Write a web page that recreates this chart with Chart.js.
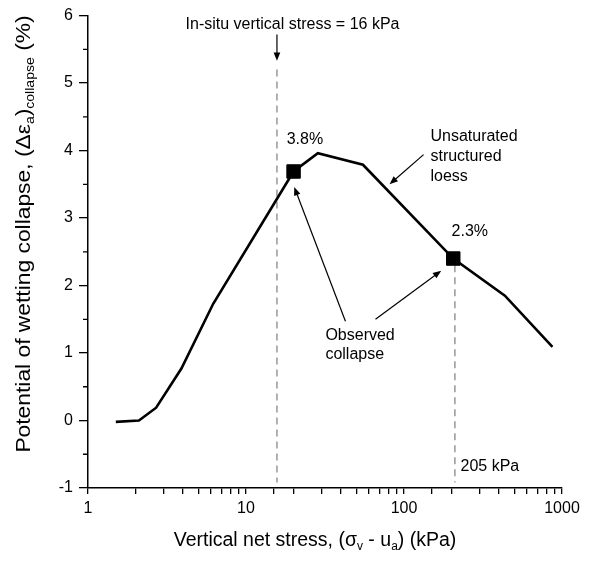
<!DOCTYPE html>
<html>
<head>
<meta charset="utf-8">
<script src="https://cdn.jsdelivr.net/npm/chart.js@4"></script>
<style>
    html, body { margin: 0; padding: 0; background: #fff; }
    #wrap { width: 614px; height: 564px; }
</style>
</head>
<body>
<div id="wrap"><canvas id="collapseChart" width="614" height="564"></canvas></div>
<script>
// Data
const stressKPa = [1.5, 2.1, 2.7, 3.9, 6.2, 20, 28.5, 55, 205, 435, 870];
const collapsePct = [-0.02, 0.0, 0.19, 0.77, 1.73, 3.69, 3.96, 3.79, 2.40, 1.85, 1.09];

const observedStress = [20, 205];
const observedCollapse = [3.69, 2.40];

const xTickValues = [1, 10, 100, 1000];
const yTickValues = [-1, 0, 1, 2, 3, 4, 5, 6];

// Vertical reference stresses (dashed lines)
const insituStress = 15.7;
const refStress205 = 210;

const FONT = 'Arial, "Liberation Sans", sans-serif';

/**
 * Draw a run of text with subscript parts, centred on (0,0)
 */
function drawRich(ctx, parts, size, subSize) {
    let total = 0;
    parts.forEach(p => {
        ctx.font = `${p.sub ? subSize : size}px ${FONT}`;
        p.w = ctx.measureText(p.t).width;
        total += p.w;
    });
    let x = -total / 2;
    ctx.textBaseline = 'middle';
    ctx.textAlign = 'left';
    parts.forEach(p => {
        ctx.font = `${p.sub ? subSize : size}px ${FONT}`;
        ctx.fillText(p.t, x, p.sub ? size * 0.3 : 0);
        x += p.w;
    });
}

function arrow(ctx, x1, y1, x2, y2, head) {
    const ang = Math.atan2(y2 - y1, x2 - x1);
    ctx.beginPath();
    ctx.moveTo(x1, y1);
    ctx.lineTo(x2 - Math.cos(ang) * head * 0.6, y2 - Math.sin(ang) * head * 0.6);
    ctx.stroke();
    ctx.beginPath();
    ctx.moveTo(x2, y2);
    ctx.lineTo(x2 - head * Math.cos(ang - 0.38), y2 - head * Math.sin(ang - 0.38));
    ctx.lineTo(x2 - head * Math.cos(ang + 0.38), y2 - head * Math.sin(ang + 0.38));
    ctx.closePath();
    ctx.fill();
}

const annotationPlugin = {
    id: 'annotations',
    beforeDatasetsDraw(chart) {
        const { ctx, scales: { x, y } } = chart;
        ctx.save();
        ctx.strokeStyle = '#888';
        ctx.lineWidth = 1.3;
        ctx.setLineDash([7, 5]);
        ctx.beginPath();
        ctx.moveTo(x.getPixelForValue(insituStress), y.getPixelForValue(5.2));
        ctx.lineTo(x.getPixelForValue(insituStress), y.getPixelForValue(-0.92));
        ctx.moveTo(x.getPixelForValue(refStress205), y.getPixelForValue(2.3));
        ctx.lineTo(x.getPixelForValue(refStress205), y.getPixelForValue(-0.92));
        ctx.stroke();
        ctx.restore();
    },
    afterDraw(chart) {
        const { ctx, scales: { x, y }, chartArea } = chart;
        const px = v => x.getPixelForValue(v);
        const py = v => y.getPixelForValue(v);
        ctx.save();
        ctx.fillStyle = '#000';
        ctx.strokeStyle = '#000';

        // minor y ticks
        ctx.lineWidth = 1.3;
        ctx.beginPath();
        for (let v = -0.5; v < 6; v += 1) {
            ctx.moveTo(chartArea.left - 5, py(v));
            ctx.lineTo(chartArea.left, py(v));
        }
        ctx.stroke();

        // text labels
        ctx.font = `16px ${FONT}`;
        ctx.textBaseline = 'middle';
        ctx.textAlign = 'center';
        ctx.fillText('In-situ vertical stress = 16 kPa', px(19.7), py(5.87));
        ctx.textAlign = 'left';
        ctx.fillText('3.8%', px(18.1), py(4.17));
        ctx.fillText('2.3%', px(200), py(2.80));
        ctx.fillText('Unsaturated', px(147), py(4.20));
        ctx.fillText('structured', px(147), py(3.91));
        ctx.fillText('loess', px(147), py(3.62));
        ctx.fillText('Observed', px(31.8), py(1.26));
        ctx.fillText('collapse', px(31.8), py(0.97));
        ctx.fillText('205 kPa', px(228), py(-0.68));

        // arrows
        ctx.lineWidth = 1.2;
        arrow(ctx, px(insituStress), py(5.72), px(insituStress), py(5.33), 9);
        arrow(ctx, px(133), py(3.94), px(81), py(3.50), 9);
        arrow(ctx, px(42.6), py(1.47), px(20.2), py(3.46), 9);
        arrow(ctx, px(66), py(1.50), px(172), py(2.22), 9);

        // axis titles
        ctx.save();
        ctx.translate((chartArea.left + chartArea.right) / 2 - 10, 541);
        drawRich(ctx, [
            { t: 'Vertical net stress, (σ' },
            { t: 'v', sub: true },
            { t: ' - u' },
            { t: 'a', sub: true },
            { t: ') (kPa)' }
        ], 19.5, 12);
        ctx.restore();

        ctx.save();
        ctx.translate(25, 234);
        ctx.rotate(-Math.PI / 2);
        ctx.scale(1.17, 1);
        drawRich(ctx, [
            { t: 'Potential of wetting collapse, (Δε' },
            { t: 'a', sub: true },
            { t: ')' },
            { t: 'collapse', sub: true },
            { t: ' (%)' }
        ], 19.5, 12);
        ctx.restore();

        ctx.restore();
    }
};

const ctx = document.getElementById('collapseChart').getContext('2d');

new Chart(ctx, {
    type: 'scatter',
    data: {
        datasets: [{
            label: 'Unsaturated structured loess',
            data: stressKPa.map((s, i) => ({ x: s, y: collapsePct[i] })),
            showLine: true,
            borderColor: '#000',
            borderWidth: 2.6,
            pointRadius: 0,
            tension: 0,
            order: 2
        }, {
            label: 'Observed collapse',
            data: observedStress.map((s, i) => ({ x: s, y: observedCollapse[i] })),
            showLine: false,
            pointStyle: 'rect',
            pointRadius: 9.5,
            backgroundColor: '#000',
            borderColor: '#000',
            borderWidth: 1,
            order: 1
        }]
    },
    options: {
        responsive: false,
        animation: false,
        devicePixelRatio: 1,
        layout: { padding: { top: 12, right: 52, left: 0, bottom: 0 } },
        plugins: {
            legend: { display: false },
            tooltip: { enabled: false }
        },
        scales: {
            x: {
                type: 'logarithmic',
                min: 1,
                max: 1000,
                afterFit: (s) => { s.height = 564 - 488; },
                border: { display: true, color: '#000', width: 1.5 },
                grid: {
                    drawOnChartArea: false,
                    drawTicks: true,
                    tickLength: 6,
                    color: '#000',
                    lineWidth: 1.3
                },
                ticks: {
                    autoSkip: false,
                    maxRotation: 0,
                    padding: 5,
                    color: '#000',
                    font: { family: FONT, size: 16 },
                    callback: (v) => xTickValues.includes(v) ? String(v) : ''
                }
            },
            y: {
                min: -1,
                max: 6,
                afterFit: (s) => { s.width = 88; },
                afterBuildTicks: (s) => { s.ticks = yTickValues.map(v => ({ value: v })); },
                border: { display: true, color: '#000', width: 1.5 },
                grid: {
                    drawOnChartArea: false,
                    drawTicks: true,
                    tickLength: 9,
                    color: '#000',
                    lineWidth: 1.3
                },
                ticks: {
                    padding: 6,
                    color: '#000',
                    font: { family: FONT, size: 16 },
                    callback: (v) => String(v)
                }
            }
        }
    },
    plugins: [annotationPlugin]
});
</script>
</body>
</html>
